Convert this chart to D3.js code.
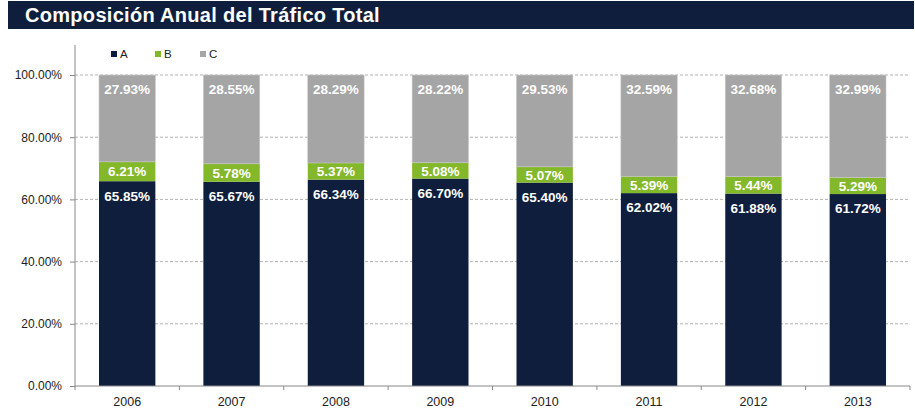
<!DOCTYPE html>
<html>
<head>
<meta charset="utf-8">
<script src="https://cdn.jsdelivr.net/npm/d3@7"></script>
<style>
  body { margin: 0; background: #fff; }
  svg { display: block; font-family: "Liberation Sans", Arial, sans-serif; }
</style>
</head>
<body>
<svg id="chart" width="915" height="410"></svg>
<script>
const title = "Composición Anual del Tráfico Total";
const years = ["2006", "2007", "2008", "2009", "2010", "2011", "2012", "2013"];
const seriesNames = ["A", "B", "C"];
const valuesA = [65.85, 65.67, 66.34, 66.70, 65.40, 62.02, 61.88, 61.72];
const valuesB = [6.21, 5.78, 5.37, 5.08, 5.07, 5.39, 5.44, 5.29];
const valuesC = [27.93, 28.55, 28.29, 28.22, 29.53, 32.59, 32.68, 32.99];
const yTicks = [0, 20, 40, 60, 80, 100];
const colors = ["#0e1e3c", "#84b82b", "#a5a5a5"];

const svg = d3.select("#chart");

// Title bar
svg.append("rect").attr("x", 8).attr("y", 1).attr("width", 906).attr("height", 28).attr("fill", "#0e1e3c");
svg.append("text").attr("x", 25).attr("y", 22).attr("fill", "#fff")
  .attr("font-size", 20).attr("font-weight", "bold").attr("letter-spacing", 0.3).text(title);

const pLeft = 75, pRight = 910, pTop = 75, pBottom = 386;
const x = d3.scaleBand().domain(years).range([pLeft, pRight]).paddingInner(0.46).paddingOuter(0.23);
const y = d3.scaleLinear().domain([0, 100]).range([pBottom, pTop]);

// gridlines
svg.append("g").selectAll("line").data(yTicks.filter(d => d > 0)).join("line")
  .attr("x1", pLeft).attr("x2", pRight)
  .attr("y1", d => y(d)).attr("y2", d => y(d))
  .attr("stroke", "#b3b3b3").attr("stroke-dasharray", "3,2").attr("stroke-width", 1);

// stacked data
const rows = years.map((yr, i) => ({ year: yr, A: valuesA[i], B: valuesB[i], C: valuesC[i] }));
const stack = d3.stack().keys(seriesNames)(rows);

const g = svg.append("g");
stack.forEach((layer, li) => {
  g.append("g").selectAll("rect").data(layer).join("rect")
    .attr("x", d => x(d.data.year))
    .attr("width", x.bandwidth())
    .attr("y", d => y(d[1]))
    .attr("height", d => y(d[0]) - y(d[1]))
    .attr("fill", colors[li])
    .attr("stroke", li === 2 ? "#c8c8c8" : "none").attr("stroke-width", 0.6);
});

// labels
stack.forEach((layer, li) => {
  g.append("g").selectAll("text").data(layer).join("text")
    .attr("x", d => x(d.data.year) + x.bandwidth() / 2)
    .attr("y", d => li === 1 ? (y(d[0]) + y(d[1])) / 2 : y(d[1]) + (li === 0 ? 14.5 : 14))
    .attr("dy", "0.36em")
    .attr("text-anchor", "middle").attr("fill", "#fff")
    .attr("font-size", 13.5).attr("font-weight", "bold")
    .text(d => (d.data[seriesNames[li]]).toFixed(2) + "%");
});

// y axis
const yAxis = d3.axisLeft(y).tickValues(yTicks).tickSize(5).tickPadding(8)
  .tickFormat(d => d.toFixed(2) + "%");
const ya = svg.append("g").attr("transform", `translate(${pLeft},0)`).call(yAxis);
ya.select(".domain").remove();
ya.selectAll(".tick line").attr("stroke", "#888");
ya.selectAll(".tick text").attr("font-size", 12).attr("fill", "#222").attr("font-family", "Liberation Sans, Arial, sans-serif");
svg.append("line").attr("x1", pLeft).attr("x2", pLeft).attr("y1", 45).attr("y2", pBottom).attr("stroke", "#888");

// x axis
svg.append("line").attr("x1", pLeft).attr("x2", pRight).attr("y1", pBottom).attr("y2", pBottom).attr("stroke", "#888");
const boundaries = years.map(yr => x(yr) - x.step() * x.paddingInner() / 2).concat([pRight]);
svg.append("g").selectAll("line").data(boundaries).join("line")
  .attr("x1", d => d).attr("x2", d => d).attr("y1", pBottom).attr("y2", pBottom + 4).attr("stroke", "#888");
svg.append("g").selectAll("text").data(years).join("text")
  .attr("x", d => x(d) + x.bandwidth() / 2).attr("y", 406)
  .attr("text-anchor", "middle").attr("font-size", 12.5).attr("fill", "#222").text(d => d);

// legend
const legX = [111, 155, 200];
const leg = svg.append("g");
seriesNames.forEach((s, i) => {
  leg.append("rect").attr("x", legX[i]).attr("y", 51).attr("width", 6).attr("height", 6).attr("fill", colors[i]);
  leg.append("text").attr("x", legX[i] + 9).attr("y", 58).attr("font-size", 11.5).attr("fill", "#222").text(s);
});
</script>
</body>
</html>
